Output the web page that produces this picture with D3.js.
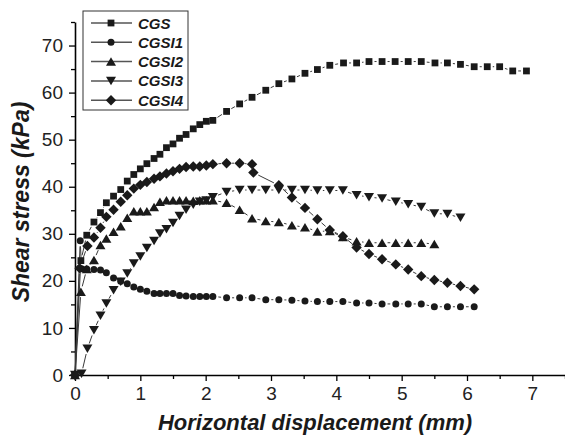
<!DOCTYPE html>
<html>
<head>
<meta charset="utf-8">
<script src="https://cdn.jsdelivr.net/npm/d3@7"></script>
<style>
  body { margin: 0; background: #fff; }
  text { font-family: "Liberation Sans", Arial, sans-serif; }
</style>
</head>
<body>
<div id="chart"></div>
<script>

// data (x = horizontal displacement mm, y = shear stress kPa)
const CGS_X = [0, 0.09, 0.18, 0.29, 0.39, 0.48, 0.59, 0.70, 0.80, 0.90, 1.00, 1.10, 1.21, 1.30, 1.40, 1.50, 1.60, 1.70, 1.81, 1.91, 2.01, 2.11, 2.32, 2.52, 2.71, 2.92, 3.12, 3.32, 3.52, 3.71, 3.90, 4.11, 4.31, 4.50, 4.70, 4.90, 5.10, 5.30, 5.51, 5.70, 5.90, 6.11, 6.31, 6.50, 6.70, 6.91];
const CGS_Y = [0, 24.3, 29.7, 32.5, 34.5, 36.6, 38.0, 39.4, 41.2, 42.6, 43.8, 44.9, 46.0, 46.9, 48.3, 49.1, 50.3, 51.1, 52.3, 53.2, 53.9, 54.1, 56.0, 57.6, 59.0, 60.5, 61.9, 62.9, 64.1, 64.9, 65.8, 66.3, 66.3, 66.6, 66.6, 66.6, 66.6, 66.6, 66.3, 66.3, 66.0, 65.5, 65.5, 65.5, 64.6, 64.6];

const CGSI1_X = [0, 0.08, 0.10, 0.18, 0.29, 0.39, 0.48, 0.59, 0.70, 0.80, 0.90, 1.00, 1.10, 1.21, 1.30, 1.40, 1.50, 1.60, 1.70, 1.81, 1.91, 2.01, 2.11, 2.32, 2.52, 2.71, 2.92, 3.12, 3.32, 3.52, 3.71, 3.90, 4.10, 4.31, 4.50, 4.70, 4.91, 5.10, 5.30, 5.50, 5.70, 5.90, 6.11];
const CGSI1_Y = [0, 28.5, 22.6, 22.5, 22.4, 22.3, 21.7, 20.6, 19.9, 19.4, 18.7, 18.2, 17.8, 17.3, 17.3, 17.3, 17.3, 16.9, 16.8, 16.7, 16.7, 16.7, 16.7, 16.4, 16.4, 16.4, 16.0, 16.0, 15.9, 15.7, 15.6, 15.6, 15.6, 15.3, 15.3, 15.1, 15.1, 15.1, 15.1, 14.5, 14.5, 14.5, 14.5];

const CGSI2_X = [0, 0.09, 0.18, 0.29, 0.39, 0.48, 0.59, 0.70, 0.80, 0.90, 1.00, 1.10, 1.21, 1.30, 1.40, 1.50, 1.60, 1.70, 1.81, 1.91, 2.01, 2.11, 2.32, 2.52, 2.71, 2.92, 3.12, 3.32, 3.52, 3.71, 3.90, 4.10, 4.31, 4.50, 4.70, 4.91, 5.10, 5.30, 5.50];
const CGSI2_Y = [0, 17.7, 22.5, 24.4, 27.6, 29.0, 30.4, 31.6, 33.4, 34.8, 34.8, 34.8, 35.7, 36.8, 37.1, 37.1, 37.1, 37.1, 37.0, 37.1, 37.1, 37.1, 36.6, 35.1, 33.3, 32.7, 32.5, 31.8, 31.4, 30.5, 30.6, 29.3, 28.4, 28.1, 28.1, 28.1, 28.1, 28.1, 27.8];

const CGSI3_X = [0, 0.10, 0.19, 0.29, 0.39, 0.48, 0.59, 0.70, 0.80, 0.90, 1.00, 1.10, 1.21, 1.30, 1.40, 1.50, 1.60, 1.70, 1.81, 1.91, 2.01, 2.11, 2.32, 2.52, 2.71, 2.92, 3.12, 3.32, 3.52, 3.71, 3.90, 4.10, 4.31, 4.50, 4.70, 4.91, 5.10, 5.30, 5.50, 5.70, 5.90];
const CGSI3_Y = [0, 0.3, 5.6, 9.5, 12.6, 15.2, 18.0, 19.8, 21.6, 23.7, 25.2, 27.0, 28.5, 30.1, 31.0, 32.3, 33.8, 35.1, 36.2, 36.8, 37.1, 37.8, 38.9, 39.3, 39.3, 39.3, 39.3, 39.3, 39.3, 39.2, 39.2, 39.2, 38.2, 37.8, 37.5, 36.8, 36.3, 35.7, 34.3, 34.2, 33.4];

const CGSI4_X = [0, 0.07, 0.19, 0.29, 0.39, 0.48, 0.59, 0.70, 0.80, 0.90, 1.00, 1.10, 1.21, 1.30, 1.40, 1.50, 1.60, 1.70, 1.81, 1.91, 2.01, 2.11, 2.32, 2.52, 2.71, 2.73, 3.12, 3.32, 3.52, 3.71, 3.90, 4.10, 4.31, 4.50, 4.70, 4.91, 5.10, 5.30, 5.50, 5.70, 5.90, 6.11];
const CGSI4_Y = [0, 22.7, 27.4, 29.2, 31.3, 33.6, 35.1, 36.8, 38.2, 39.6, 40.4, 41.0, 41.7, 42.2, 42.8, 43.3, 43.8, 44.2, 44.3, 44.3, 44.5, 44.8, 45.0, 45.0, 44.8, 43.0, 40.3, 37.7, 35.5, 33.1, 30.8, 29.5, 27.1, 25.7, 24.6, 23.5, 22.4, 21.0, 20.2, 19.6, 18.9, 18.2];

const SERIES_NAMES = ["CGS", "CGSI1", "CGSI2", "CGSI3", "CGSI4"];
const X_TICKS = [0, 1, 2, 3, 4, 5, 6, 7];
const Y_TICKS = [0, 10, 20, 30, 40, 50, 60, 70];
const X_LABEL = "Horizontal displacement (mm)";
const Y_LABEL = "Shear stress (kPa)";


const FRAME_HEIGHT = 435;
const FRAME_WIDTH = 565;
const MARGINS = {left: 75, right: 0, top: 22, bottom: 60};

const VIS_HEIGHT = FRAME_HEIGHT - MARGINS.top - MARGINS.bottom;
const VIS_WIDTH = FRAME_WIDTH - MARGINS.left - MARGINS.right;

const FRAME = d3.select("#chart")
                .append("svg")
                  .attr("height", FRAME_HEIGHT)
                  .attr("width", FRAME_WIDTH);

const X_SCALE = d3.scaleLinear()
                  .domain([0, 7.5])
                  .range([0, VIS_WIDTH]);

const Y_SCALE = d3.scaleLinear()
                  .domain([0, 75])
                  .range([VIS_HEIGHT, 0]);

// marker shapes (Origin style)
const SQUARE = {draw(c) { c.moveTo(-3.4, -3.4); c.lineTo(3.4, -3.4); c.lineTo(3.4, 3.4); c.lineTo(-3.4, 3.4); c.closePath(); }};
const CIRCLE = {draw(c) { c.moveTo(3.5, 0); c.arc(0, 0, 3.5, 0, 2 * Math.PI); }};
const TRI_UP = {draw(c) { c.moveTo(0, -4.3); c.lineTo(5, 4.2); c.lineTo(-5, 4.2); c.closePath(); }};
const TRI_DOWN = {draw(c) { c.moveTo(0, 4.3); c.lineTo(5, -4.2); c.lineTo(-5, -4.2); c.closePath(); }};
const DIAMOND = {draw(c) { c.moveTo(0, -5.2); c.lineTo(5.2, 0); c.lineTo(0, 5.2); c.lineTo(-5.2, 0); c.closePath(); }};

const SHAPES = [SQUARE, CIRCLE, TRI_UP, TRI_DOWN, DIAMOND];
const ALL_X = [CGS_X, CGSI1_X, CGSI2_X, CGSI3_X, CGSI4_X];
const ALL_Y = [CGS_Y, CGSI1_Y, CGSI2_Y, CGSI3_Y, CGSI4_Y];

const PLOT = FRAME.append("g")
                  .attr("transform", "translate(" + MARGINS.left + "," + MARGINS.top + ")");

// axes first so marks sit on top
const xMinor = d3.range(0.5, 7.6, 1);
const yMinor = d3.range(5, 76, 10);

PLOT.append("g")
    .attr("transform", "translate(0," + VIS_HEIGHT + ")")
    .call(d3.axisBottom(X_SCALE).tickValues(xMinor).tickSize(4).tickSizeOuter(0).tickFormat(""))
    .call(g => g.select(".domain").remove())
    .selectAll("line").attr("stroke-width", 1.3);

const xAxis = PLOT.append("g")
    .attr("transform", "translate(0," + VIS_HEIGHT + ")")
    .call(d3.axisBottom(X_SCALE).tickValues(X_TICKS).tickSize(6).tickSizeOuter(0).tickPadding(6).tickFormat(d3.format("d")));
xAxis.selectAll("text").attr("font-size", "19px").attr("fill", "#222")
     .attr("font-family", "'Liberation Sans', Arial, sans-serif");
xAxis.selectAll("line").attr("stroke-width", 1.3);
xAxis.select(".domain").attr("stroke-width", 1.6);

PLOT.append("g")
    .call(d3.axisLeft(Y_SCALE).tickValues(yMinor).tickSize(4).tickSizeOuter(0).tickFormat(""))
    .call(g => g.select(".domain").remove())
    .selectAll("line").attr("stroke-width", 1.3);

const yAxis = PLOT.append("g")
    .call(d3.axisLeft(Y_SCALE).tickValues(Y_TICKS).tickSize(6).tickSizeOuter(0).tickPadding(6).tickFormat(d3.format("d")));
yAxis.selectAll("text").attr("font-size", "19px").attr("fill", "#222")
     .attr("font-family", "'Liberation Sans', Arial, sans-serif");
yAxis.selectAll("line").attr("stroke-width", 1.3);
yAxis.select(".domain").attr("stroke-width", 1.6);

// lines between markers, with a small gap at each marker like the original
const GAP = 5.5;
ALL_X.forEach((xs, s) => {
  const pts = xs.map((x, i) => ({x: x, y: ALL_Y[s][i]}));
  const segs = d3.pairs(pts);
  PLOT.append("g")
      .selectAll("line")
      .data(segs)
      .enter()
      .append("line")
        .each(function(p) {
          const x1 = X_SCALE(p[0].x), y1 = Y_SCALE(p[0].y);
          const x2 = X_SCALE(p[1].x), y2 = Y_SCALE(p[1].y);
          const len = Math.hypot(x2 - x1, y2 - y1);
          const g1 = (p[0].x === 0 && p[0].y === 0) ? 0 : GAP;
          if (len <= g1 + GAP) { d3.select(this).remove(); return; }
          const ux = (x2 - x1) / len, uy = (y2 - y1) / len;
          d3.select(this)
            .attr("x1", x1 + ux * g1).attr("y1", y1 + uy * g1)
            .attr("x2", x2 - ux * GAP).attr("y2", y2 - uy * GAP);
        })
        .attr("stroke", "#3a3a3a")
        .attr("stroke-width", 1);
});

ALL_X.forEach((xs, s) => {
  const pts = xs.map((x, i) => ({x: x, y: ALL_Y[s][i]}));
  PLOT.append("g")
      .selectAll("path")
      .data(pts)
      .enter()
      .append("path")
        .attr("d", d3.symbol().type(SHAPES[s]))
        .attr("transform", (d) => { return "translate(" + X_SCALE(d.x) + "," + Y_SCALE(d.y) + ")"; })
        .attr("fill", "#1a1a1a");
});

// axis titles
FRAME.append("text")
     .attr("x", MARGINS.left + 240)
     .attr("y", 430)
     .attr("text-anchor", "middle")
     .attr("font-size", "22px")
     .attr("font-weight", "bold")
     .attr("font-style", "italic")
     .attr("fill", "#1a1a1a")
     .text(X_LABEL);

FRAME.append("text")
     .attr("transform", "translate(29,202) rotate(-90)")
     .attr("text-anchor", "middle")
     .attr("font-size", "23px")
     .attr("font-weight", "bold")
     .attr("font-style", "italic")
     .attr("fill", "#1a1a1a")
     .text(Y_LABEL);

// legend
const LEGEND = FRAME.append("g").attr("transform", "translate(83,11)");
LEGEND.append("rect")
      .attr("width", 105)
      .attr("height", 99)
      .attr("fill", "white")
      .attr("stroke", "#333")
      .attr("stroke-width", 1);

const rows = LEGEND.selectAll("g.row")
      .data(SERIES_NAMES)
      .enter()
      .append("g")
        .attr("class", "row")
        .attr("transform", (d, i) => { return "translate(0," + (12 + i * 19.3) + ")"; });

rows.append("line")
    .attr("x1", 8).attr("x2", 49)
    .attr("stroke", "#555")
    .attr("stroke-width", 1.5);

rows.append("path")
    .attr("d", (d, i) => d3.symbol().type(SHAPES[i])())
    .attr("transform", "translate(28,0)")
    .attr("fill", "#1a1a1a");

rows.append("text")
    .attr("x", 55)
    .attr("y", 5.5)
    .attr("font-size", "15px")
    .attr("font-weight", "bold")
    .attr("font-style", "italic")
    .attr("fill", "#1a1a1a")
    .text((d) => d);

</script>
</body>
</html>
